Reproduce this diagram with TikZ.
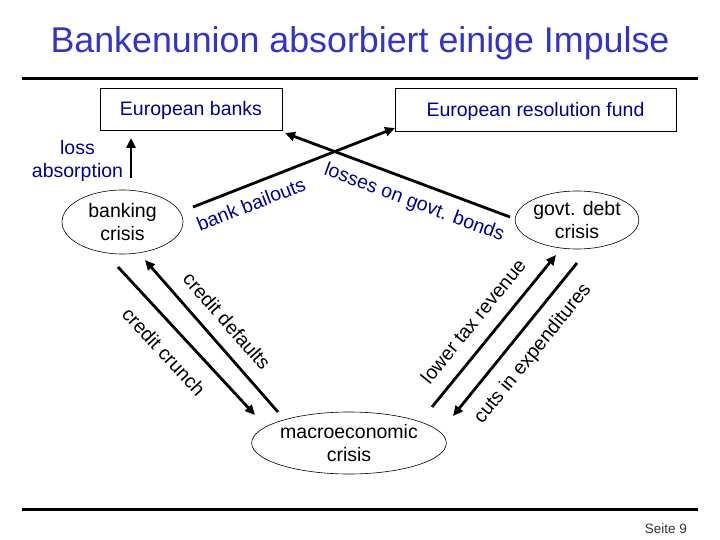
\documentclass[tikz,border=0pt]{standalone}
\usepackage{fontspec}
\setmainfont{Liberation Sans}
\usetikzlibrary{arrows.meta,shapes.geometric}
\definecolor{titleblue}{RGB}{51,51,204}
\definecolor{labelblue}{RGB}{0,0,150}
\begin{document}
\begin{tikzpicture}[x=1pt,y=-1pt,
  lbl/.style={font=\fontsize{19.5}{22.5}\selectfont, inner sep=0pt},
  bluelbl/.style={lbl, text=labelblue},
  boxnode/.style={draw, line width=0.8pt, inner sep=0pt, text=labelblue,
    font=\fontsize{19.5}{22.5}\selectfont, text height=14pt, text depth=0pt},
  crisis/.style={draw, ellipse, line width=0.6pt, inner sep=0pt, align=center,
    font=\fontsize{19.5}{22.5}\selectfont},
  flow/.style={line width=2.8pt, -{Triangle[length=10pt,width=9pt]}},
  rulestyle/.style={line width=3pt}
]
\useasboundingbox (0,0) rectangle (720,540);

% title and rules
\node[font=\fontsize{35.8}{40}\selectfont, text=titleblue, anchor=base, inner sep=0pt] (title) at (360,53) {Bankenunion absorbiert einige Impulse};
\draw[rulestyle] (22,79) -- (698,79);
\draw[rulestyle] (22,509) -- (698,509);
\node[font=\fontsize{13.5}{16}\selectfont, text=black!80, anchor=base east, inner sep=0pt] (page) at (687,533) {Seite 9};

% boxes
\node[boxnode, minimum width=182pt, minimum height=42pt] (eb) at (191,109) {European banks};
\node[boxnode, minimum width=281pt, minimum height=43pt] (erf) at (535.5,109.5) {European resolution fund};

% ellipses
\node[crisis, minimum width=121pt, minimum height=64pt] (bc) at (122.5,222) {banking\\crisis};
\node[crisis, minimum width=120pt, minimum height=58pt] (gd) at (577,220) {govt. debt\\crisis};
\node[crisis, minimum width=192pt, minimum height=62pt] (mc) at (349,443) {macroeconomic\\crisis};

% loss absorption
\node[bluelbl, align=center, font=\fontsize{19.5}{23}\selectfont] (la) at (77.5,160.5) {loss\\absorption};

% connector end points
\coordinate (la0) at (131,178);  \coordinate (la1) at (131,138);
\coordinate (ba0) at (193,207);  \coordinate (ba1) at (395,128);
\coordinate (lo0) at (510,217);  \coordinate (lo1) at (285,133);
\coordinate (cc0) at (118,267);  \coordinate (cc1) at (255,415);
\coordinate (cd0) at (278,412);  \coordinate (cd1) at (145,260);
\coordinate (lt0) at (432,407);  \coordinate (lt1) at (556,255);
\coordinate (ce0) at (577,263);  \coordinate (ce1) at (453,416);

\draw[flow] (la0) -- (la1);
\draw[flow] (ba0) -- (ba1);
\draw[flow] (lo0) -- (lo1);
\draw[flow] (cc0) -- (cc1);
\draw[flow] (cd0) -- (cd1);
\draw[flow] (lt0) -- (lt1);
\draw[flow] (ce0) -- (ce1);

% connector labels
\node[bluelbl, rotate=21.4] (bb) at (251,204) {bank bailouts};
\node[bluelbl, rotate=-20.5] (lg) at (414,203) {losses on govt. bonds};
\node[lbl, rotate=-48.8] (cd) at (227,321) {credit defaults};
\node[lbl, rotate=-47.2] (cc) at (164,352) {credit crunch};
\node[lbl, rotate=50.8] (lt) at (473,321) {lower tax revenue};
\node[lbl, rotate=51] (ce) at (533,354) {cuts in expenditures};
\end{tikzpicture}
\end{document}
